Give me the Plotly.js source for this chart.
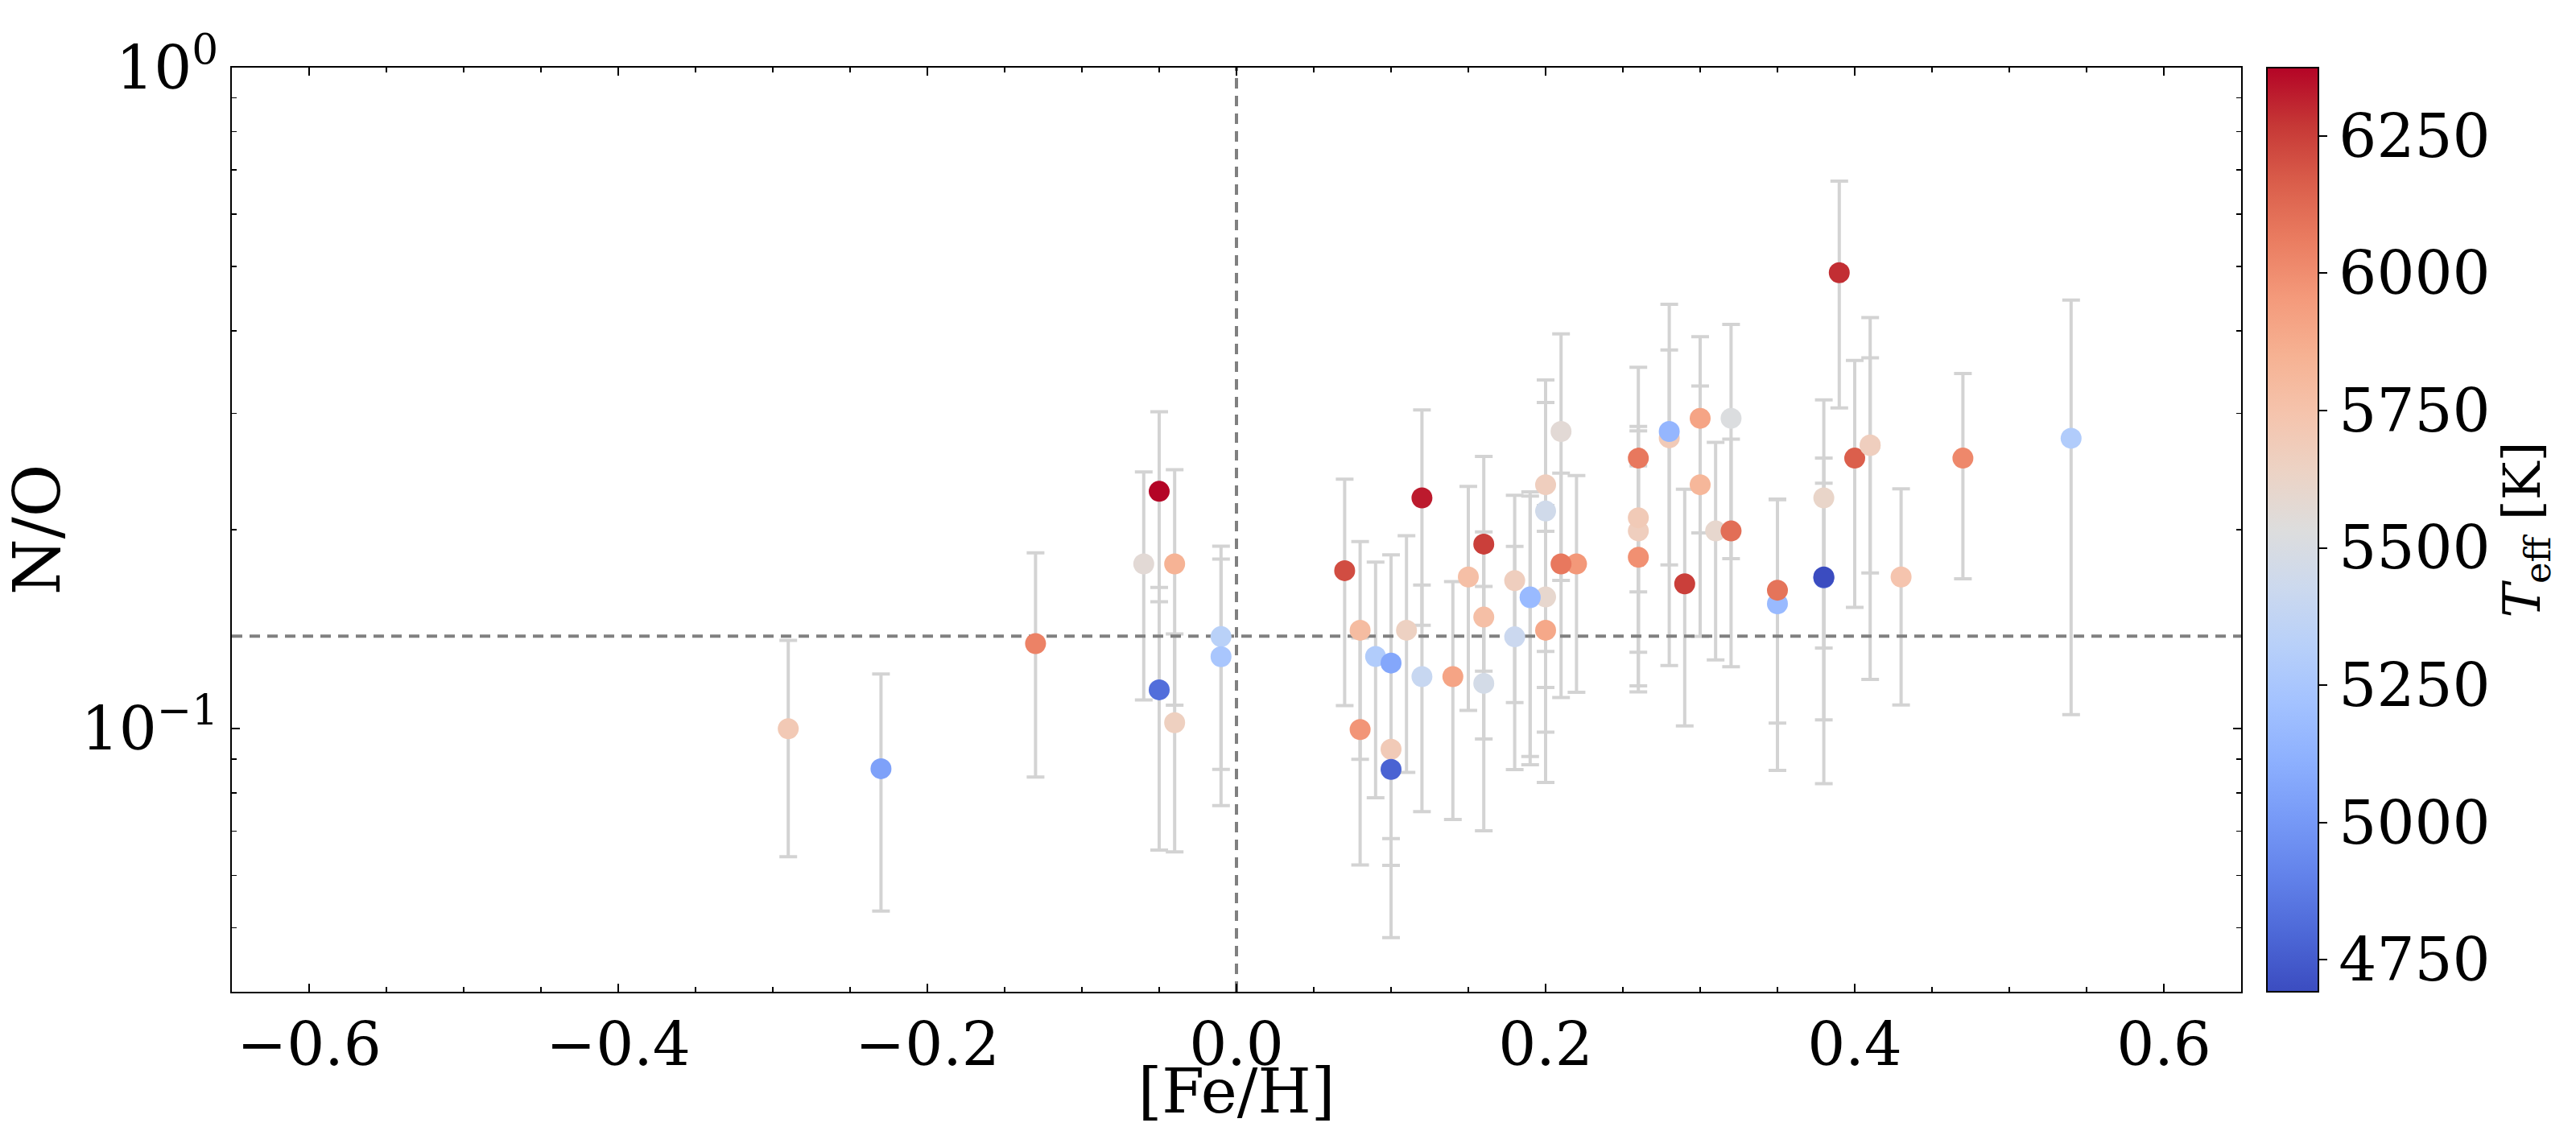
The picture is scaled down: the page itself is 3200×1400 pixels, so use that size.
<!DOCTYPE html>
<html>
<head>
<meta charset="utf-8">
<script src="https://cdn.plot.ly/plotly-3.0.1.min.js"></script>
<style>
  html, body { margin: 0; padding: 0; background: #fff; }
  #chart { width: 3200px; height: 1400px; }
</style>
</head>
<body>
<div id="chart"></div>
<script>
// [Fe/H] of each star
const feh = [
  -0.29, -0.23, -0.13, -0.06, -0.05, -0.05, -0.04, -0.04, -0.01, -0.01,
  0.07, 0.08, 0.08, 0.09, 0.10, 0.10, 0.10, 0.11, 0.12, 0.12,
  0.14, 0.15, 0.16, 0.16, 0.16, 0.18, 0.18, 0.20, 0.20, 0.20,
  0.20, 0.19, 0.19, 0.22, 0.21, 0.21, 0.26, 0.26, 0.26, 0.26,
  0.28, 0.28, 0.29, 0.30, 0.30, 0.31, 0.32, 0.32, 0.35, 0.35,
  0.38, 0.38, 0.38, 0.39, 0.40, 0.41, 0.41, 0.43, 0.47, 0.54
];
// N/O ratio
const nO = [
  0.100, 0.087, 0.1345, 0.1775, 0.2286, 0.1145, 0.1775, 0.1021, 0.1378, 0.1285,
  0.1734, 0.1409, 0.0997, 0.1286, 0.1257, 0.0931, 0.0868, 0.1409, 0.2234, 0.1199,
  0.1199, 0.1696, 0.1902, 0.1475, 0.1171, 0.1675, 0.1377, 0.2339, 0.2134, 0.1582,
  0.1409, 0.1578, 0.1582, 0.1775, 0.2816, 0.1775, 0.2566, 0.1991, 0.2085, 0.1817,
  0.2754, 0.2816, 0.1656, 0.2948, 0.2339, 0.1991, 0.2948, 0.1991, 0.1545, 0.1620,
  0.2234, 0.1691, 0.1696, 0.4896, 0.2566, 0.2680, 0.2687, 0.1696, 0.2566, 0.2750
];
// 1-sigma uncertainty on N/O
const nOErr = [
  0.036, 0.034, 0.050, 0.067, 0.073, 0.049, 0.069, 0.037, 0.051, 0.052,
  0.065, 0.051, 0.0375, 0.050, 0.0575, 0.031, 0.0385, 0.055, 0.080, 0.045,
  0.047, 0.063, 0.068, 0.051, 0.047, 0.058, 0.051, 0.103, 0.098, 0.0594,
  0.058, 0.067, 0.070, 0.064, 0.114, 0.066, 0.0955, 0.083, 0.078, 0.068,
  0.0985, 0.157, 0.0646, 0.097, 0.096, 0.072, 0.114, 0.075, 0.068, 0.060,
  0.091, 0.066, 0.087, 0.184, 0.104, 0.096, 0.150, 0.061, 0.088, 0.170
];
// effective temperature [K]
const teff = [
  5710, 5040, 6040, 5570, 6374, 4820, 5840, 5660, 5330, 5250,
  6210, 5790, 5970, 5290, 5070, 5700, 4780, 5650, 6330, 5400,
  5910, 5770, 6250, 5770, 5470, 5670, 5420, 5670, 5450, 5600,
  5890, 5200, 5170, 5960, 5570, 6075, 6075, 5670, 5700, 5990,
  5700, 5150, 6250, 5910, 5820, 5600, 5520, 6110, 5170, 6090,
  5620, 4760, 4692, 6290, 6160, 5650, 5670, 5740, 6020, 5290
];
// solar N/O reference
const solarNO = 0.138;
const fehRange = [-0.65, 0.65];
const noRange = [0.04, 1];
const teffRange = [4692, 6374];
const xTicks = [-0.6, -0.4, -0.2, 0.0, 0.2, 0.4, 0.6];
const yTicks = [0.1, 1];
const yTickText = ['10<sup>\u22121</sup>', '10<sup>0</sup>'];
const cbTicks = [4750, 5000, 5250, 5500, 5750, 6000, 6250];

const coolwarm = [
  [0.0, 'rgb(59,76,192)'], [0.0625, 'rgb(77,104,215)'], [0.125, 'rgb(98,130,234)'],
  [0.1875, 'rgb(119,154,247)'], [0.25, 'rgb(141,176,254)'], [0.3125, 'rgb(163,194,255)'],
  [0.375, 'rgb(184,208,249)'], [0.4375, 'rgb(204,217,238)'], [0.5, 'rgb(221,221,221)'],
  [0.5625, 'rgb(236,211,197)'], [0.625, 'rgb(245,196,173)'], [0.6875, 'rgb(246,178,147)'],
  [0.75, 'rgb(244,154,123)'], [0.8125, 'rgb(234,125,97)'], [0.875, 'rgb(218,94,75)'],
  [0.9375, 'rgb(198,56,54)'], [1.0, 'rgb(180,4,38)']
];

const font = 'DejaVu Serif';

let trace_err = {
  x: feh,
  y: nO,
  type: 'scatter',
  mode: 'markers',
  marker: { size: 1, opacity: 0 },
  error_y: { type: 'data', array: nOErr, symmetric: true, color: 'lightgray', thickness: 4, width: 11 },
  hoverinfo: 'skip',
  showlegend: false,
};
let trace_hline = {
  x: fehRange,
  y: [solarNO, solarNO],
  type: 'scatter',
  mode: 'lines',
  line: { color: 'grey', width: 4, dash: '13px,9px' },
  showlegend: false,
};
let trace_vline = {
  x: [0, 0],
  y: noRange,
  type: 'scatter',
  mode: 'lines',
  line: { color: 'grey', width: 4, dash: '13px,9px' },
  showlegend: false,
};
let trace_pts = {
  x: feh,
  y: nO,
  type: 'scatter',
  mode: 'markers',
  marker: {
    size: 26,
    color: teff,
    colorscale: coolwarm,
    cmin: teffRange[0],
    cmax: teffRange[1],
    line: { width: 0 },
    showscale: true,
    colorbar: {
      x: 1.0128, xanchor: 'left', xref: 'paper', xpad: 0, ypad: 0,
      y: 0.5, yanchor: 'middle', len: 1, lenmode: 'fraction',
      thickness: 64, thicknessmode: 'pixels',
      outlinewidth: 2, outlinecolor: 'black',
      ticks: 'outside', ticklen: 10, tickwidth: 2, tickcolor: 'black',
      tickmode: 'array', tickvals: cbTicks,
      tickfont: { family: font, size: 74, color: 'black' },
      title: { text: '<i>T</i><sub>eff</sub> [K]', side: 'right', font: { family: font, size: 64, color: 'black' } },
    },
  },
  showlegend: false,
};

let layout = {
  width: 3200,
  height: 1400,
  margin: { l: 288, r: 416, t: 84, b: 168, pad: 0 },
  paper_bgcolor: 'white',
  plot_bgcolor: 'white',
  showlegend: false,
  font: { family: font, color: 'black' },
  xaxis: {
    range: fehRange,
    tickmode: 'array', tickvals: xTicks, tickformat: '.1f',
    ticks: 'inside', ticklen: 10, tickwidth: 2, tickcolor: 'black',
    minor: { dtick: 0.05, ticks: 'inside', ticklen: 6, tickwidth: 1.5, tickcolor: 'black', showgrid: false },
    showline: true, linewidth: 2, linecolor: 'black', mirror: 'allticks',
    showgrid: false, zeroline: false,
    tickfont: { family: font, size: 74, color: 'black' },
    title: { text: '[Fe/H]', font: { family: font, size: 76, color: 'black' }, standoff: 8 },
  },
  yaxis: {
    type: 'log',
    range: [Math.log10(noRange[0]), Math.log10(noRange[1])],
    tickmode: 'array', tickvals: yTicks, ticktext: yTickText,
    ticks: 'inside', ticklen: 10, tickwidth: 2, tickcolor: 'black',
    minor: { dtick: 'D1', ticks: 'inside', ticklen: 6, tickwidth: 1.5, tickcolor: 'black', showgrid: false },
    showline: true, linewidth: 2, linecolor: 'black', mirror: 'allticks',
    showgrid: false, zeroline: false,
    tickfont: { family: font, size: 74, color: 'black' },
    title: { text: 'N/O', font: { family: font, size: 80, color: 'black' }, standoff: 6 },
  },
};

let config = { responsive: false, displayModeBar: false, staticPlot: true };
Plotly.newPlot('chart', [trace_err, trace_hline, trace_vline, trace_pts], layout, config);
</script>
</body>
</html>
